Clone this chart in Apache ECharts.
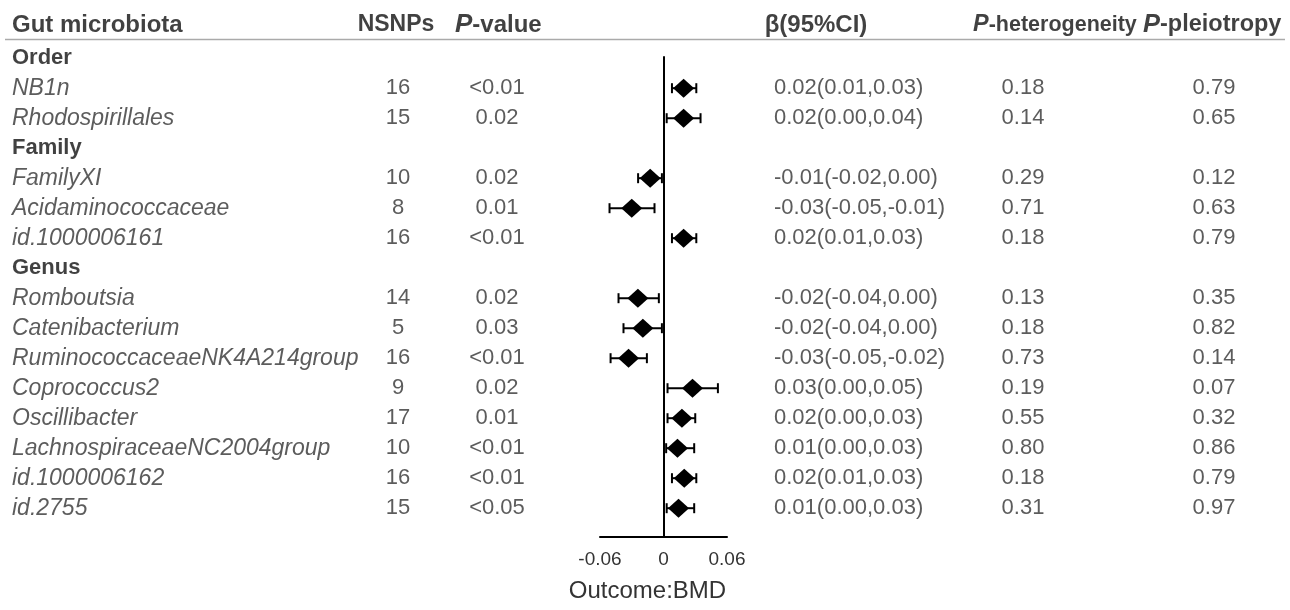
<!DOCTYPE html>
<html>
<head>
<meta charset="utf-8">
<script src="https://cdn.jsdelivr.net/npm/echarts@6/dist/echarts.min.js"></script>
<style>html,body{margin:0;padding:0;background:#fff}#c{width:1290px;height:610px}</style>
</head>
<body>
<div id="c"></div>
<script>
// ---------------- data ----------------
const groupNames = ['Order', 'Family', 'Genus'];
const groupRows = [0, 3, 7];
const taxa = ['NB1n', 'Rhodospirillales', 'FamilyXI', 'Acidaminococcaceae', 'id.1000006161',
  'Romboutsia', 'Catenibacterium', 'RuminococcaceaeNK4A214group', 'Coprococcus2', 'Oscillibacter',
  'LachnospiraceaeNC2004group', 'id.1000006162', 'id.2755'];
const taxonRows = [1, 2, 4, 5, 6, 8, 9, 10, 11, 12, 13, 14, 15];
const nsnps = [16, 15, 10, 8, 16, 14, 5, 16, 9, 17, 10, 16, 15];
const pValues = ['<0.01', '0.02', '0.02', '0.01', '<0.01', '0.02', '0.03', '<0.01', '0.02', '0.01', '<0.01', '<0.01', '<0.05'];
const beta = [0.019, 0.019, -0.0126, -0.030, 0.019, -0.0242, -0.0195, -0.033, 0.0274, 0.0174, 0.0132, 0.0196, 0.0142];
const ciLow = [0.008, 0.003, -0.024, -0.051, 0.008, -0.0425, -0.0378, -0.050, 0.0038, 0.0038, 0.0025, 0.008, 0.003];
const ciHigh = [0.031, 0.035, -0.0015, -0.0085, 0.031, -0.0044, -0.0015, -0.0157, 0.0514, 0.030, 0.029, 0.031, 0.029];
const betaText = ['0.02(0.01,0.03)', '0.02(0.00,0.04)', '-0.01(-0.02,0.00)', '-0.03(-0.05,-0.01)', '0.02(0.01,0.03)',
  '-0.02(-0.04,0.00)', '-0.02(-0.04,0.00)', '-0.03(-0.05,-0.02)', '0.03(0.00,0.05)', '0.02(0.00,0.03)',
  '0.01(0.00,0.03)', '0.02(0.01,0.03)', '0.01(0.00,0.03)'];
const pHet = ['0.18', '0.14', '0.29', '0.71', '0.18', '0.13', '0.18', '0.73', '0.19', '0.55', '0.80', '0.18', '0.31'];
const pPleio = ['0.79', '0.65', '0.12', '0.63', '0.79', '0.35', '0.82', '0.14', '0.07', '0.32', '0.86', '0.79', '0.97'];
const xTicks = [-0.06, 0, 0.06];
const headers = ['Gut microbiota', 'NSNPs', '{i|P}-value', 'β(95%CI)', '{i|P}-heterogeneity', '{i|P}-pleiotropy'];
const outcomeLabel = 'Outcome:BMD';

// ---------------- layout ----------------
const FONT = 'Liberation Sans, Arial, sans-serif';
const TEXT = '#333333';
const HEAD_ROW = -1.11;
const col = { name: 12, nsnp: 398, p: 497, beta: 774, het: 1023, pleio: 1214 };
// [x, align, fontSize]
const headCol = [[12, 'left', 24], [396, 'center', 23], [455, 'left', 24], [816, 'center', 24], [973, 'left', 21.5], [1143, 'left', 23.5]];

function textSeries(data, align, style) {
  return {
    type: 'scatter', xAxisIndex: 1, yAxisIndex: 1, symbolSize: 0, clip: false, silent: true,
    data: data,
    label: Object.assign({
      show: true, position: 'inside', align: align, verticalAlign: 'middle',
      formatter: p => p.data[2], fontFamily: FONT, color: TEXT, fontSize: 22
    }, style || {})
  };
}

const chart = echarts.init(document.getElementById('c'), null, { renderer: 'canvas' });
const yAx = (gi) => ({
  type: 'value', gridIndex: gi, inverse: true, min: -0.04, max: 15.96,
  axisLabel: { show: false }, axisTick: { show: false }, splitLine: { show: false },
  axisLine: { show: gi === 0, onZero: true, lineStyle: { color: '#000', width: 2 } }
});

const option = {
  animation: false,
  backgroundColor: '#fff',
  grid: [
    { left: 600, top: 57, width: 127, height: 480 },
    { left: 0, top: 57, width: 1290, height: 480 }
  ],
  xAxis: [
    {
      type: 'value', gridIndex: 0, min: xTicks[0], max: xTicks[2], interval: 0.06,
      axisLine: { onZero: false, lineStyle: { color: '#000', width: 2 } },
      axisTick: { show: false }, splitLine: { show: false },
      axisLabel: { fontSize: 19, color: TEXT, fontFamily: FONT, margin: 13 },
      name: outcomeLabel, nameLocation: 'middle', nameGap: 42,
      nameTextStyle: { fontSize: 24, color: TEXT, fontFamily: FONT, padding: [0, 32, 0, 0] }
    },
    { type: 'value', gridIndex: 1, min: 0, max: 1290, show: false }
  ],
  yAxis: [yAx(0), yAx(1)],
  graphic: [{
    type: 'line', shape: { x1: 5, y1: 39.5, x2: 1285, y2: 39.5 },
    style: { stroke: '#aaaaaa', lineWidth: 1.5 }, silent: true
  }],
  series: [
    {
      type: 'custom', xAxisIndex: 0, yAxisIndex: 0, silent: true,
      data: taxonRows.map((r, i) => [ciLow[i], ciHigh[i], r]),
      renderItem: function (params, api) {
        const a = api.coord([api.value(0), api.value(2)]);
        const b = api.coord([api.value(1), api.value(2)]);
        const h = 5;
        const st = { stroke: '#000', lineWidth: 2 };
        return {
          type: 'group', children: [
            { type: 'line', shape: { x1: a[0], y1: a[1], x2: b[0], y2: b[1] }, style: st },
            { type: 'line', shape: { x1: a[0], y1: a[1] - h, x2: a[0], y2: a[1] + h }, style: st },
            { type: 'line', shape: { x1: b[0], y1: b[1] - h, x2: b[0], y2: b[1] + h }, style: st }
          ]
        };
      }
    },
    {
      type: 'scatter', xAxisIndex: 0, yAxisIndex: 0, symbol: 'diamond', symbolSize: [21, 19],
      itemStyle: { color: '#000', opacity: 1 }, z: 5, silent: true,
      data: taxonRows.map((r, i) => [beta[i], r])
    },
    textSeries(groupNames.map((g, i) => [col.name, groupRows[i], g]), 'left', { fontWeight: 'bold', color: '#111', fontSize: 22 }),
    textSeries(taxa.map((t, i) => [col.name, taxonRows[i], t]), 'left', { fontStyle: 'italic', fontSize: 23 }),
    textSeries(nsnps.map((v, i) => [col.nsnp, taxonRows[i], String(v)]), 'center'),
    textSeries(pValues.map((v, i) => [col.p, taxonRows[i], v]), 'center'),
    textSeries(betaText.map((v, i) => [col.beta, taxonRows[i], v]), 'left'),
    textSeries(pHet.map((v, i) => [col.het, taxonRows[i], v]), 'center'),
    textSeries(pPleio.map((v, i) => [col.pleio, taxonRows[i], v]), 'center')
  ].concat(headers.map((h, i) => textSeries([[headCol[i][0], HEAD_ROW, h]], headCol[i][1], {
    fontWeight: 'bold', color: '#111', fontSize: headCol[i][2],
    rich: { i: { fontStyle: 'italic', fontWeight: 'bold', fontSize: headCol[i][2] + 2, color: '#111', fontFamily: FONT } }
  })))
};
chart.setOption(option);
</script>
</body>
</html>
